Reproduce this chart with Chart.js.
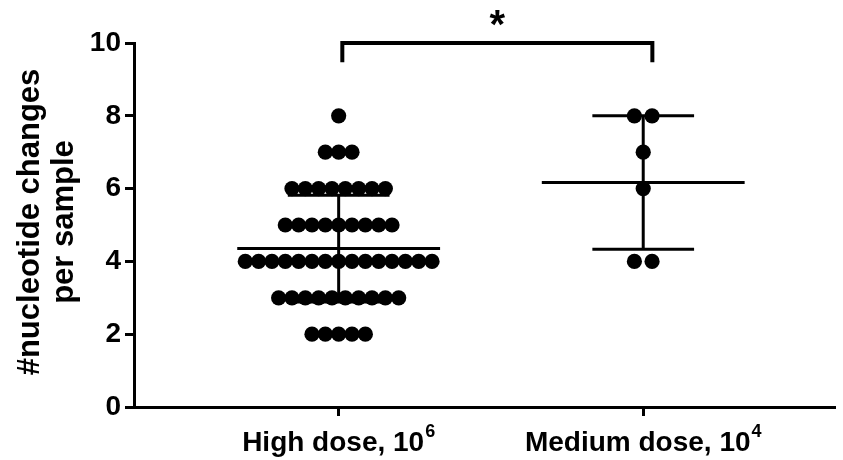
<!DOCTYPE html>
<html>
<head>
<meta charset="utf-8">
<script src="https://cdn.jsdelivr.net/npm/chart.js@4"></script>
<style>
  html, body { margin: 0; padding: 0; background: #fff; }
  #wrap { width: 843px; height: 460px; }
</style>
</head>
<body>
<div id="wrap"><canvas id="c" width="843" height="460"></canvas></div>
<script>
// ---- data ----
const categories = ['High dose, 10', 'Medium dose, 10'];
const categoryExponents = ['6', '4'];
const highDoseValues = [8,
  7, 7, 7,
  6, 6, 6, 6, 6, 6, 6, 6,
  5, 5, 5, 5, 5, 5, 5, 5, 5,
  4, 4, 4, 4, 4, 4, 4, 4, 4, 4, 4, 4, 4, 4, 4,
  3, 3, 3, 3, 3, 3, 3, 3, 3, 3,
  2, 2, 2, 2, 2];
const mediumDoseValues = [8, 8, 7, 6, 4, 4];
const yTickValues = [0, 2, 4, 6, 8, 10];
const yAxisTitle = ['#nucleotide changes', 'per sample'];
const significanceLabel = '*';

// ---- layout / style constants ----
const FONT = "'Liberation Sans', Arial, sans-serif";
const DOT_SPACING = [0.0438, 0.058];   // horizontal spread between dots in a row (x units)
const MEAN_HALF = 0.333, CAP_HALF = 0.167;

function swarm(values, cx, spacing) {
  const groups = {};
  values.forEach(v => { (groups[v] = groups[v] || []).push(v); });
  const pts = [];
  Object.keys(groups).forEach(k => {
    const n = groups[k].length;
    groups[k].forEach((v, i) => pts.push({ x: cx + (i - (n - 1) / 2) * spacing, y: v }));
  });
  return pts;
}
function stats(values) {
  const n = values.length;
  const m = values.reduce((a, b) => a + b, 0) / n;
  const sd = Math.sqrt(values.reduce((a, b) => a + (b - m) * (b - m), 0) / (n - 1));
  return { m, sd };
}
function barSets(values, cx) {
  const { m, sd } = stats(values);
  const base = { type: 'scatter', showLine: true, pointRadius: 0, borderColor: '#000', borderWidth: 3, order: 0 };
  return [
    Object.assign({ data: [{ x: cx - MEAN_HALF, y: m }, { x: cx + MEAN_HALF, y: m }] }, base),
    Object.assign({ data: [{ x: cx - CAP_HALF, y: m + sd }, { x: cx + CAP_HALF, y: m + sd }] }, base),
    Object.assign({ data: [{ x: cx - CAP_HALF, y: m - sd }, { x: cx + CAP_HALF, y: m - sd }] }, base),
    Object.assign({ data: [{ x: cx, y: m - sd }, { x: cx, y: m + sd }] }, base)
  ];
}

const dotStyle = { type: 'scatter', pointRadius: 7.6, pointHoverRadius: 7.6, backgroundColor: '#000', borderWidth: 0, order: 1 };

const overlay = {
  id: 'overlay',
  afterDraw(chart) {
    const ctx = chart.ctx, xs = chart.scales.x, ys = chart.scales.y;
    ctx.save();
    ctx.fillStyle = '#000';
    ctx.strokeStyle = '#000';
    // category labels with superscripts
    categories.forEach((lab, i) => {
      const cx = xs.getPixelForValue(i);
      ctx.font = 'bold 28px ' + FONT;
      const w1 = ctx.measureText(lab).width;
      ctx.font = 'bold 18px ' + FONT;
      const w2 = ctx.measureText(categoryExponents[i]).width;
      const start = cx - (w1 + 1 + w2) / 2;
      ctx.textAlign = 'left';
      ctx.textBaseline = 'alphabetic';
      ctx.font = 'bold 28px ' + FONT;
      ctx.fillText(lab, start, 451);
      ctx.font = 'bold 18px ' + FONT;
      ctx.fillText(categoryExponents[i], start + w1 + 1, 437);
    });
    // y axis title
    ctx.save();
    ctx.translate(0, (ys.top + ys.bottom) / 2 - 3);
    ctx.rotate(-Math.PI / 2);
    ctx.textAlign = 'center';
    ctx.textBaseline = 'middle';
    ctx.font = 'bold 31px ' + FONT;
    ctx.fillText(yAxisTitle[0], 0, 30);
    ctx.fillText(yAxisTitle[1], 0, 64);
    ctx.restore();
    // significance bracket
    const x1 = xs.getPixelForValue(0.012), x2 = xs.getPixelForValue(1.03);
    const yTop = ys.getPixelForValue(10), yLeg = ys.getPixelForValue(9.47);
    ctx.lineWidth = 4;
    ctx.lineJoin = 'miter';
    ctx.beginPath();
    ctx.moveTo(x1, yLeg);
    ctx.lineTo(x1, yTop);
    ctx.lineTo(x2, yTop);
    ctx.lineTo(x2, yLeg);
    ctx.stroke();
    ctx.textAlign = 'center';
    ctx.textBaseline = 'middle';
    ctx.font = 'bold 40px ' + FONT;
    ctx.fillText(significanceLabel, (x1 + x2) / 2, 27);
    ctx.restore();
  }
};

new Chart(document.getElementById('c'), {
  type: 'scatter',
  data: {
    datasets: [
      Object.assign({ data: swarm(highDoseValues, 0, DOT_SPACING[0]) }, dotStyle),
      Object.assign({ data: swarm(mediumDoseValues, 1, DOT_SPACING[1]) }, dotStyle),
      ...barSets(highDoseValues, 0),
      ...barSets(mediumDoseValues, 1)
    ]
  },
  options: {
    responsive: false,
    animation: false,
    devicePixelRatio: 1,
    layout: { padding: { top: 43, right: 0, left: 0, bottom: 0 } },
    plugins: { legend: { display: false }, tooltip: { enabled: false } },
    scales: {
      x: {
        type: 'linear',
        min: -0.672, max: 1.631,
        afterBuildTicks: s => { s.ticks = [{ value: 0 }, { value: 1 }]; },
        afterFit: s => { s.height = 53; },
        ticks: { display: false },
        grid: { drawOnChartArea: false, drawTicks: true, tickLength: 9, tickWidth: 3, tickColor: '#000' },
        border: { display: true, width: 3, color: '#000' }
      },
      y: {
        min: 0, max: 10,
        afterBuildTicks: s => { s.ticks = [0,1,2,3,4,5,6,7,8,9,10].map(v => ({ value: v })); },
        afterFit: s => { s.width = 134; },
        ticks: {
          color: '#000',
          padding: 4,
          font: { family: FONT, size: 28, weight: 'bold' },
          callback: v => (yTickValues.includes(v) ? String(v) : '')
        },
        grid: { drawOnChartArea: false, drawTicks: true, tickLength: 9, tickWidth: 3, tickColor: '#000' },
        border: { display: true, width: 3, color: '#000' }
      }
    }
  },
  plugins: [overlay]
});
</script>
</body>
</html>
